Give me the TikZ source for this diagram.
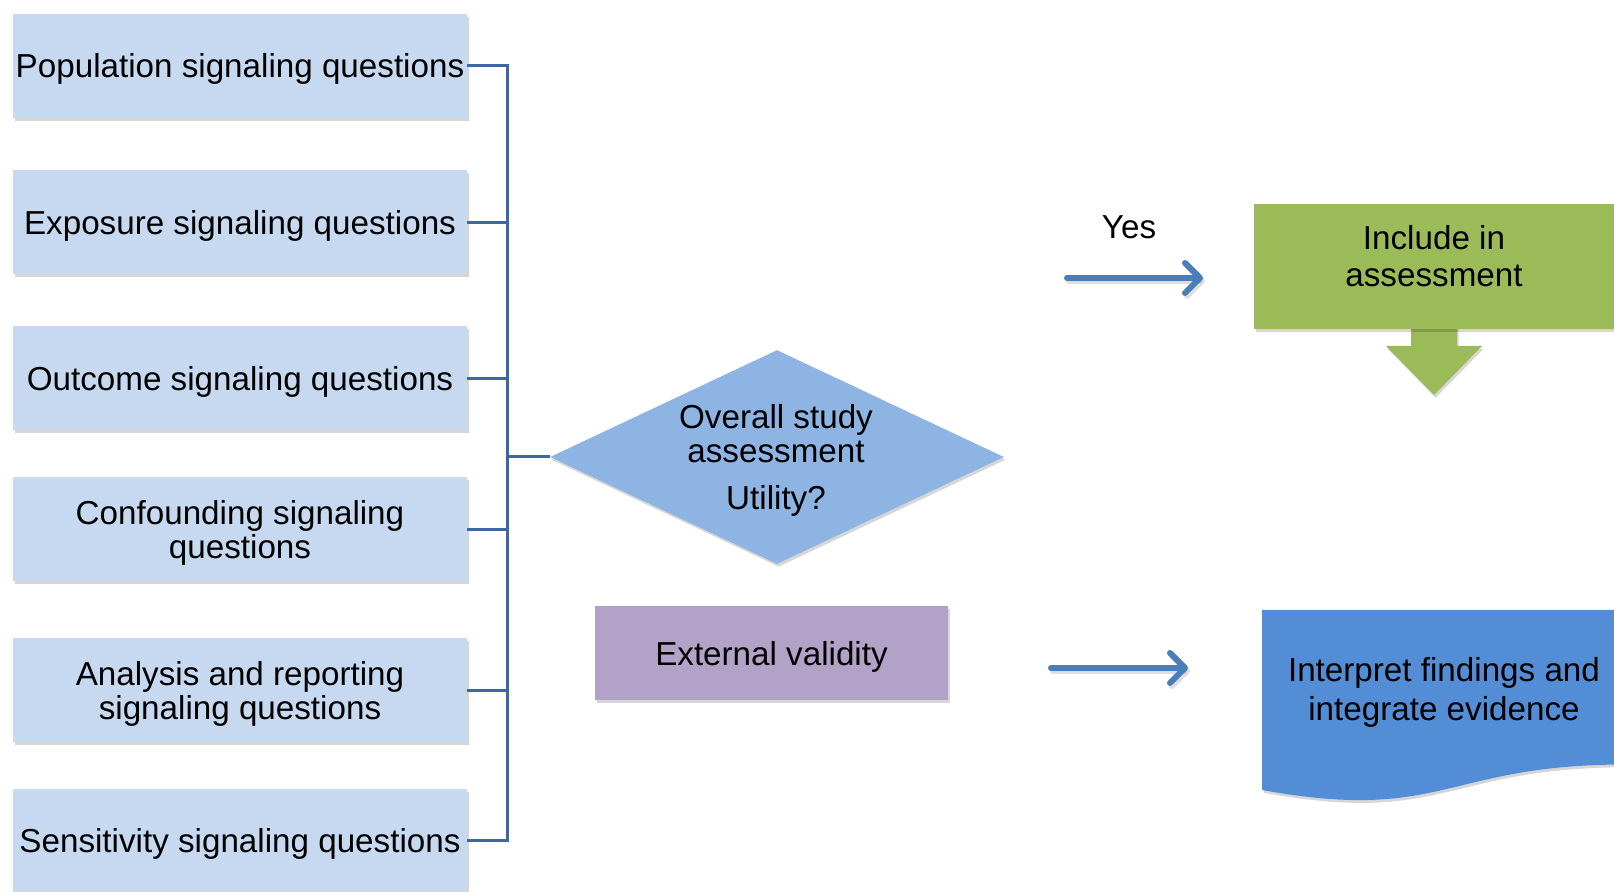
\documentclass[tikz,border=0pt]{standalone}
\usepackage{fontspec}
\setmainfont{Liberation Sans}
\usetikzlibrary{shapes.geometric,arrows.meta,shadows}
\definecolor{qboxc}{RGB}{198,217,241}
\definecolor{diac}{RGB}{141,180,226}
\definecolor{purc}{RGB}{179,162,199}
\definecolor{greenc}{RGB}{155,187,89}
\definecolor{docc}{RGB}{83,141,213}
\definecolor{arrc}{RGB}{74,126,187}
\definecolor{busc}{RGB}{62,102,160}
\begin{document}
\begin{tikzpicture}[x=0.5pt,y=-0.5pt,
  font=\fontsize{16.6pt}{17pt}\selectfont,
  shad/.style={drop shadow={shadow xshift=0.8pt,shadow yshift=-1.4pt,fill=black,opacity=0.16}},
  qbox/.style={fill=qboxc,minimum width=227pt,minimum height=52pt,inner sep=0pt,shad},
  txt/.style={align=center,inner sep=0pt},
  bus/.style={draw=busc,line width=1.5pt},
  flowarrow/.style={draw=arrc,line width=3pt,line cap=round,-{Straight Barb[length=7.5pt,width=15pt,line cap=round,line join=round]}},
  flowshadow/.style={draw=black,opacity=0.13,line width=3pt,line cap=round,-{Straight Barb[length=7.5pt,width=15pt,line cap=round,line join=round]}}
]
\useasboundingbox (0,0) rectangle (1614,892);
\clip (0,0) rectangle (1614,892);

% left question boxes
\node[qbox] (b1) at (240,66)    {};
\node[qbox] (b2) at (240,222.5) {};
\node[qbox] (b3) at (240,378.5) {};
\node[qbox] (b4) at (240,529.5) {};
\node[qbox] (b5) at (240,690.5) {};
\node[qbox] (b6) at (240,841)   {};
\node[txt,yshift=-1.5pt] (t1) at (b1.center) {Population signaling questions};
\node[txt,yshift=-1.5pt] (t2) at (b2.center) {Exposure signaling questions};
\node[txt,yshift=-1.5pt] (t3) at (b3.center) {Outcome signaling questions};
\node[txt,yshift=-1.5pt] (t4) at (b4.center) {Confounding signaling\\questions};
\node[txt,yshift=-1.5pt] (t5) at (b5.center) {Analysis and reporting\\signaling questions};
\node[txt,yshift=-1.5pt] (t6) at (b6.center) {Sensitivity signaling questions};

% decision diamond
\node[diamond,fill=diac,minimum width=227pt,minimum height=107pt,inner sep=0pt,shad] (d) at (777,457) {};
\node[txt] (dtext) at (776,460) {Overall study\\assessment\\[6.5pt]Utility?};

% bus connector
\coordinate (busx) at (507,0);
\draw[bus] (b1.east) -- (b1.east -| busx) -- (b6.east -| busx) -- (b6.east);
\draw[bus] (b2.east) -- (b2.east -| busx);
\draw[bus] (b3.east) -- (b3.east -| busx);
\draw[bus] (b4.east) -- (b4.east -| busx);
\draw[bus] (b5.east) -- (b5.east -| busx);
\draw[bus] (d.west) -- (d.west -| busx);

% external validity
\node[fill=purc,minimum width=176.5pt,minimum height=47pt,inner sep=0pt,shad] (ext) at (771.5,653) {};
\node[txt] (exttext) at (771.5,656.5) {External validity};

% Yes arrow
\node[txt] (yes) at (1129,227) {Yes};
\coordinate (a1s) at (1067,278);
\coordinate (a1e) at (1203,278);
\coordinate (a1ss) at (1069,281);
\coordinate (a1es) at (1205,281);
\draw[flowshadow] (a1ss) -- (a1es);
\draw[flowarrow] (a1s) -- (a1e);

% lower arrow
\coordinate (a2s) at (1051,668);
\coordinate (a2e) at (1188,668);
\coordinate (a2ss) at (1053,671);
\coordinate (a2es) at (1190,671);
\draw[flowshadow] (a2ss) -- (a2es);
\draw[flowarrow] (a2s) -- (a2e);

% include box with down arrow
\fill[greenc,shad] (1411,320) -- (1411,346) -- (1386,346) -- (1434,395) -- (1482,346) -- (1457,346) -- (1457,320) -- cycle;
\node[fill=greenc,minimum width=180pt,minimum height=62.5pt,inner sep=0pt,shad] (inc) at (1434,266.5) {};
\node[txt,font=\fontsize{16.6pt}{18.5pt}\selectfont] (inctext) at (1434,256) {Include in\\assessment};

% document shape
\fill[docc,shad] (1262,610) -- (1626,610) -- (1626,764.5) .. controls (1444,764.5) and (1444,823) .. (1262,790) -- cycle;
\node[txt,font=\fontsize{16.6pt}{19.5pt}\selectfont] (interp) at (1444,692) {Interpret findings and\\integrate evidence};
\end{tikzpicture}
\end{document}
